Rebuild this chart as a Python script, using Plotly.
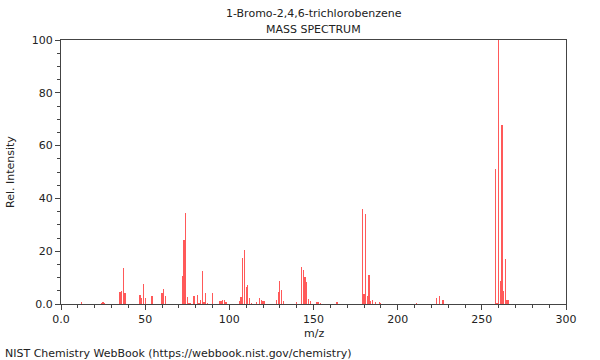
import plotly.graph_objects as go

mz = [12, 24, 25, 26, 35, 36, 37, 38, 47, 48, 49, 50, 54, 60, 61, 62,
      72, 73, 74, 75, 76, 77, 79, 81, 82, 83, 84, 85, 86, 87, 90,
      94, 95, 96, 97, 98, 106, 107, 108, 109, 110, 111, 112, 113, 116,
      118, 119, 120, 121, 128, 129, 130, 131, 132, 140,
      143, 144, 145, 146, 147, 148, 152, 153, 154, 164,
      179, 180, 181, 182, 183, 184, 185, 187, 189, 190, 211,
      223, 225, 227, 258, 259, 260, 261, 262, 263, 264, 265, 266]
intensity = [0.7, 0.3, 0.7, 0.5, 4.4, 4.9, 13.5, 4.3, 3.4, 2.4, 7.5, 2.4, 3.0, 4.2, 5.7, 3.0,
             10.6, 24.2, 34.6, 2.8, 0.5, 0.5, 3.2, 3.4, 0.5, 1.5, 12.6, 0.6, 4.0, 0.5, 4.0,
             1.3, 1.3, 1.5, 1.5, 0.6, 1.2, 2.8, 17.3, 20.4, 6.6, 7.2, 2.1, 0.5, 0.7,
             2.3, 1.5, 1.0, 1.0, 1.5, 4.6, 8.6, 5.3, 1.0, 0.6,
             14.1, 12.9, 10.2, 8.3, 2.0, 1.0, 0.8, 0.6, 0.5, 0.6,
             36.0, 3.7, 34.0, 3.0, 11.0, 1.0, 1.5, 0.6, 0.6, 0.5, 0.5,
             2.1, 3.0, 1.5, 51.0, 0.5, 100.0, 8.7, 67.7, 4.9, 17.0, 1.5, 1.5]

x_tickvals = [0, 50, 100, 150, 200, 250, 300]
x_ticktext = ["0.0", "50", "100", "150", "200", "250", "300"]
y_tickvals = [0, 20, 40, 60, 80, 100]
y_ticktext = ["0.0", "20", "40", "60", "80", "100"]

font = "DejaVu Sans, sans-serif"
axcol = "#444444"

fig = go.Figure()
fig.add_trace(go.Bar(x=mz, y=intensity, width=0.75,
                     marker=dict(color="rgba(255,60,60,0.85)", line=dict(width=0))))

fig.update_layout(
    width=600, height=360,
    margin=dict(l=61, r=34, t=40, b=56),
    paper_bgcolor="white", plot_bgcolor="white",
    showlegend=False,
    font=dict(family=font, size=11, color="#222222"),
    bargap=0,
)
fig.update_xaxes(range=[0, 300], tickvals=x_tickvals, ticktext=x_ticktext,
                 showgrid=False, zeroline=False, showline=True, linecolor=axcol,
                 linewidth=1, mirror=True, ticks="outside", ticklen=5, tickcolor=axcol,
                 tickfont=dict(size=11, family=font, color="#222222"),
                 minor=dict(dtick=10, ticks="outside", ticklen=3, tickcolor=axcol))
fig.update_yaxes(range=[0, 100], tickvals=y_tickvals, ticktext=y_ticktext,
                 showgrid=False, zeroline=False, showline=True, linecolor=axcol,
                 linewidth=1, mirror=True, ticks="outside", ticklen=5, tickcolor=axcol,
                 tickfont=dict(size=11, family=font, color="#222222"),
                 minor=dict(dtick=5, ticks="outside", ticklen=3, tickcolor=axcol))

ann = [
    dict(text="1-Bromo-2,4,6-trichlorobenzene", x=0.5, y=1.102),
    dict(text="MASS SPECTRUM", x=0.5, y=1.038),
    dict(text="m/z", x=0.5, y=-0.11),
]
for a in ann:
    fig.add_annotation(text=a["text"], x=a["x"], y=a["y"], xref="paper", yref="paper",
                       showarrow=False, xanchor="center", yanchor="middle",
                       font=dict(family=font, size=11, color="#222222"))
fig.add_annotation(text="Rel. Intensity", x=-0.101, y=0.5, xref="paper", yref="paper",
                   showarrow=False, textangle=-90, xanchor="center", yanchor="middle",
                   font=dict(family=font, size=11, color="#222222"))
fig.add_annotation(text="NIST Chemistry WebBook (https://webbook.nist.gov/chemistry)",
                   x=-0.115, y=-0.186, xref="paper", yref="paper", showarrow=False,
                   xanchor="left", yanchor="middle",
                   font=dict(family=font, size=11, color="#222222"))

fig.write_html("out.html", config={"displayModeBar": False},
               post_script="document.body.style.margin='0';document.body.style.padding='0';"
                           "document.body.style.overflow='hidden';")
